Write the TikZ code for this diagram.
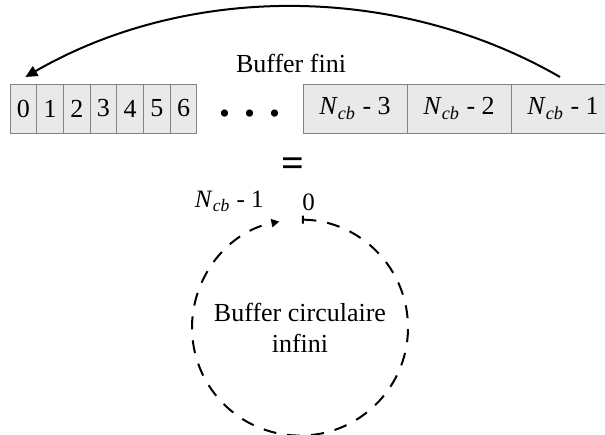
\documentclass[tikz,border=0pt]{standalone}
\usepackage{fontspec}
\setmainfont{Liberation Serif}
\usetikzlibrary{arrows.meta,positioning}
\definecolor{cellfill}{RGB}{233,233,233}
\definecolor{cellline}{RGB}{130,130,130}
\tikzset{
  cell/.style    = {draw=cellline,fill=cellfill,line width=0.5pt,outer sep=0pt,
                    inner sep=0pt,minimum width=13.35pt,minimum height=24.5pt,
                    font=\fontsize{13}{16}\selectfont},
  bigcell/.style = {cell,minimum width=52pt},
  arrow/.style   = {-{Triangle[length=6pt,width=5.5pt]},line width=1pt},
  ringline/.style= {{Bar[width=4pt]}-{Triangle[length=4pt,width=4pt]},
                    line width=1pt,dash pattern=on 6.5pt off 5.5pt},
  lbl/.style     = {inner sep=1pt,font=\fontsize{12.5}{15}\selectfont},
}
\newcommand{\ncb}[1]{\textit{N}\textsubscript{\textit{cb}} - #1}

\begin{document}
\begin{tikzpicture}[x=0.5pt,y=-0.5pt,font=\fontsize{13}{15.5}\selectfont]
  \useasboundingbox (0,0) rectangle (605,434);
  % finite buffer: first cells
  \node[cell] (c0) at (23.35,108.5) {0};
  \foreach \i [remember=\i as \j (initially 0)] in {1,...,6}
    \node[cell,right=0pt of c\j] (c\i) {\i};
  \node[font=\bfseries\fontsize{22}{22}\selectfont,inner sep=0pt] (dots) at (250,114)
    {.\hspace{7pt}.\hspace{7pt}.};
  % finite buffer: last cells
  \node[bigcell] (r3) at (355,108.5) {\ncb{3}};
  \node[bigcell,right=0pt of r3] (r2) {\ncb{2}};
  \node[bigcell,right=0pt of r2] (r1) {\ncb{1}};
  \draw[arrow] ([xshift=-1.5pt,yshift=3.5pt]r1.north)
    to[bend right=30,looseness=0.9] ([xshift=1pt,yshift=3.5pt]c0.north);
  \node (fini) at (291,63) {Buffer fini};
  \node[font=\bfseries\fontsize{20}{20}\selectfont] (eq) at (293,167) {=};
  % infinite circular buffer
  \node[circle,minimum size=108pt,inner sep=0pt,align=center] (ring) at (300,328)
    {Buffer circulaire\\infini};
  \draw[ringline] (ring.89) arc[start angle=89,end angle=-259,radius=54pt];
  \node[lbl,above left=3pt and 17pt of ring.north] (last) {\ncb{1}};
  \node[lbl,above right=3pt and 0pt of ring.north] (zero) {0};
\end{tikzpicture}
\end{document}
